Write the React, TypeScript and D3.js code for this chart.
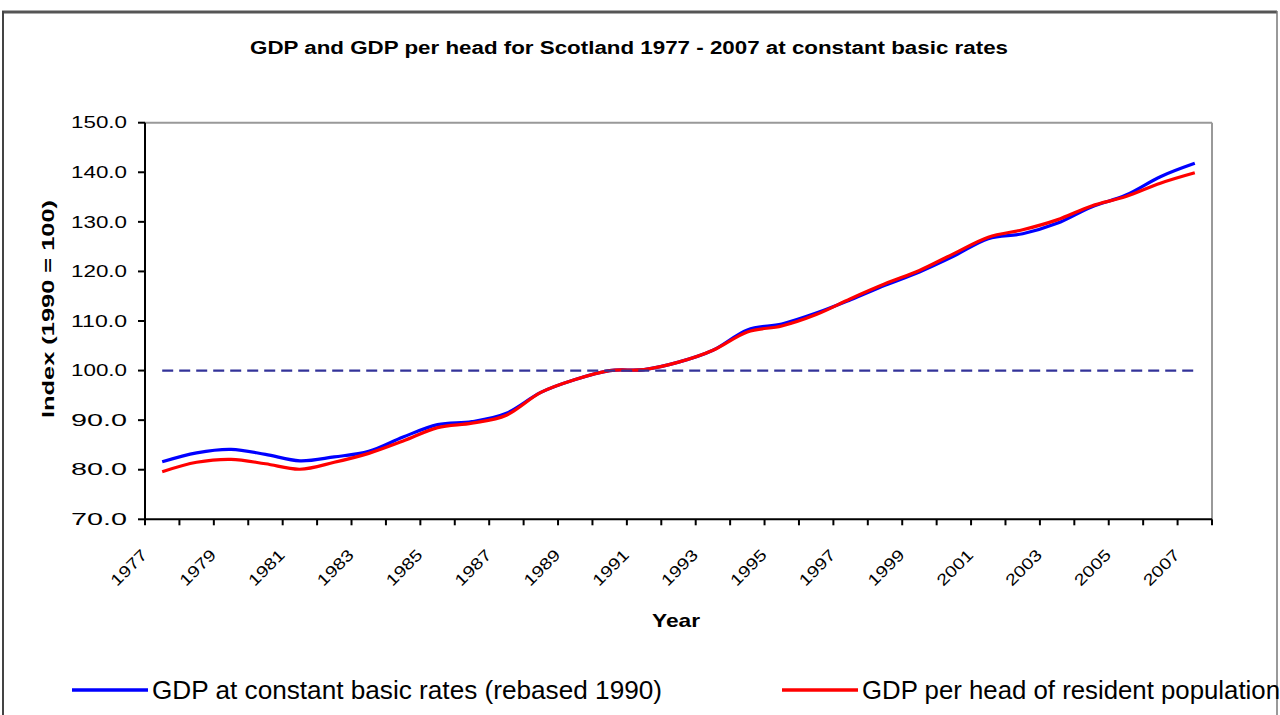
import React from "react";
import * as d3 from "d3";

const years = [
  1977, 1978, 1979, 1980, 1981, 1982, 1983, 1984, 1985, 1986, 1987, 1988, 1989, 1990, 1991, 1992,
  1993, 1994, 1995, 1996, 1997, 1998, 1999, 2000, 2001, 2002, 2003, 2004, 2005, 2006, 2007,
];
const gdp = [
  81.6, 83.4, 84.1, 83.1, 81.8, 82.6, 83.7, 86.6, 89.1, 89.7, 91.4, 95.6, 98.2, 100.0, 100.2, 101.7,
  104.1, 108.2, 109.4, 111.6, 114.3, 117.2, 119.9, 123.1, 126.6, 127.6, 129.7, 133.0, 135.4, 139.1, 141.8,
];
const perHead = [
  79.6, 81.5, 82.1, 81.2, 80.1, 81.5, 83.3, 85.8, 88.5, 89.4, 91.0, 95.6, 98.2, 100.0, 100.2, 101.7,
  104.1, 107.8, 109.0, 111.3, 114.5, 117.5, 120.2, 123.6, 126.9, 128.4, 130.4, 133.2, 135.1, 137.8, 139.9,
];
const baseline = years.map(() => 100);
const yTicks = [70, 80, 90, 100, 110, 120, 130, 140, 150];
const labelYears = years.filter((y) => (y - 1977) % 2 === 0);
const seriesNames = ["GDP at constant basic rates (rebased 1990)", "GDP per head of resident population"];
const title = "GDP and GDP per head for Scotland 1977 - 2007 at constant basic rates";

const W = 1280;
const H = 715;
const plot = { left: 145, right: 1212, top: 122.7, bottom: 519.3 };
const FONT = "Arial, 'Liberation Sans', sans-serif";

export default function App() {
  const x = d3
    .scaleBand<number>()
    .domain(years)
    .range([plot.left, plot.right])
    .padding(0);
  const cx = (yr: number) => (x(yr) as number) + x.bandwidth() / 2;
  const y = d3.scaleLinear().domain([70, 150]).range([plot.bottom, plot.top]);

  const line = d3
    .line<number>()
    .x((_, i) => cx(years[i]))
    .y((d) => y(d))
    .curve(d3.curveCardinal.tension(0));
  const straight = d3
    .line<number>()
    .x((_, i) => cx(years[i]))
    .y((d) => y(d));

  const tickXs = years.map((yr) => x(yr) as number).concat([plot.right]);

  return (
    <svg
      width={W}
      height={H}
      style={{ position: "absolute", left: 0, top: 0, background: "#fff" }}
      fontFamily={FONT}
    >
      <rect x={0} y={0} width={W} height={H} fill="#fff" />
      {/* outer chart border */}
      <line x1={2} y1={12} x2={1277} y2={12} stroke="#555" strokeWidth={3} />
      <line x1={3} y1={11} x2={3} y2={H} stroke="#444" strokeWidth={2} />
      <line x1={1277} y1={11} x2={1277} y2={H} stroke="#777" strokeWidth={1.5} />

      {/* title */}
      <text
        x={629}
        y={54}
        textAnchor="middle"
        fontWeight="bold"
        fontSize={18}
        textLength={758}
        lengthAdjust="spacingAndGlyphs"
      >
        {title}
      </text>

      {/* plot frame (top/right grey) */}
      <line x1={plot.left} y1={plot.top} x2={plot.right} y2={plot.top} stroke="#999" strokeWidth={2} />
      <line x1={plot.right} y1={plot.top} x2={plot.right} y2={plot.bottom} stroke="#999" strokeWidth={2} />

      {/* y axis */}
      <line x1={plot.left} y1={plot.top} x2={plot.left} y2={plot.bottom + 1} stroke="#000" strokeWidth={2} />
      {yTicks.map((t) => (
        <g key={t}>
          <line x1={plot.left - 7} x2={plot.left} y1={y(t)} y2={y(t)} stroke="#000" strokeWidth={2} />
          <text
            x={127}
            y={y(t)}
            dy="0.36em"
            textAnchor="end"
            fontSize={16}
            textLength={56}
            lengthAdjust="spacingAndGlyphs"
          >
            {t.toFixed(1)}
          </text>
        </g>
      ))}
      <text
        transform={`translate(54, 309) rotate(-90)`}
        textAnchor="middle"
        fontWeight="bold"
        fontSize={17}
        textLength={218}
        lengthAdjust="spacingAndGlyphs"
      >
        Index (1990 = 100)
      </text>

      {/* x axis */}
      <line x1={plot.left - 1} x2={plot.right} y1={plot.bottom} y2={plot.bottom} stroke="#000" strokeWidth={2} />
      {tickXs.map((tx, i) => (
        <line key={i} x1={tx} x2={tx} y1={plot.bottom} y2={plot.bottom + 6} stroke="#000" strokeWidth={2} />
      ))}
      {labelYears.map((yr) => (
        <text
          key={yr}
          transform={`translate(${cx(yr) - 14}, 556) rotate(-45)`}
          textAnchor="end"
          fontSize={16}
          textLength={44}
          lengthAdjust="spacingAndGlyphs"
        >
          {yr}
        </text>
      ))}
      <text x={676} y={627} textAnchor="middle" fontWeight="bold" fontSize={19} textLength={48} lengthAdjust="spacingAndGlyphs">
        Year
      </text>

      {/* series */}
      <path d={line(gdp) || ""} fill="none" stroke="#0000ff" strokeWidth={3.2} />
      <path d={line(perHead) || ""} fill="none" stroke="#ff0000" strokeWidth={3.2} />
      <path d={straight(baseline) || ""} fill="none" stroke="#333399" strokeWidth={2.2} strokeDasharray="11,6" />

      {/* legend */}
      <line x1={72} x2={148} y1={690} y2={690} stroke="#0000ff" strokeWidth={3.5} />
      <text x={152} y={699} fontSize={25} textLength={510} lengthAdjust="spacingAndGlyphs">
        {seriesNames[0]}
      </text>
      <line x1={782} x2={858} y1={690} y2={690} stroke="#ff0000" strokeWidth={3.5} />
      <text x={862} y={699} fontSize={25} textLength={418} lengthAdjust="spacingAndGlyphs">
        {seriesNames[1]}
      </text>
    </svg>
  );
}
